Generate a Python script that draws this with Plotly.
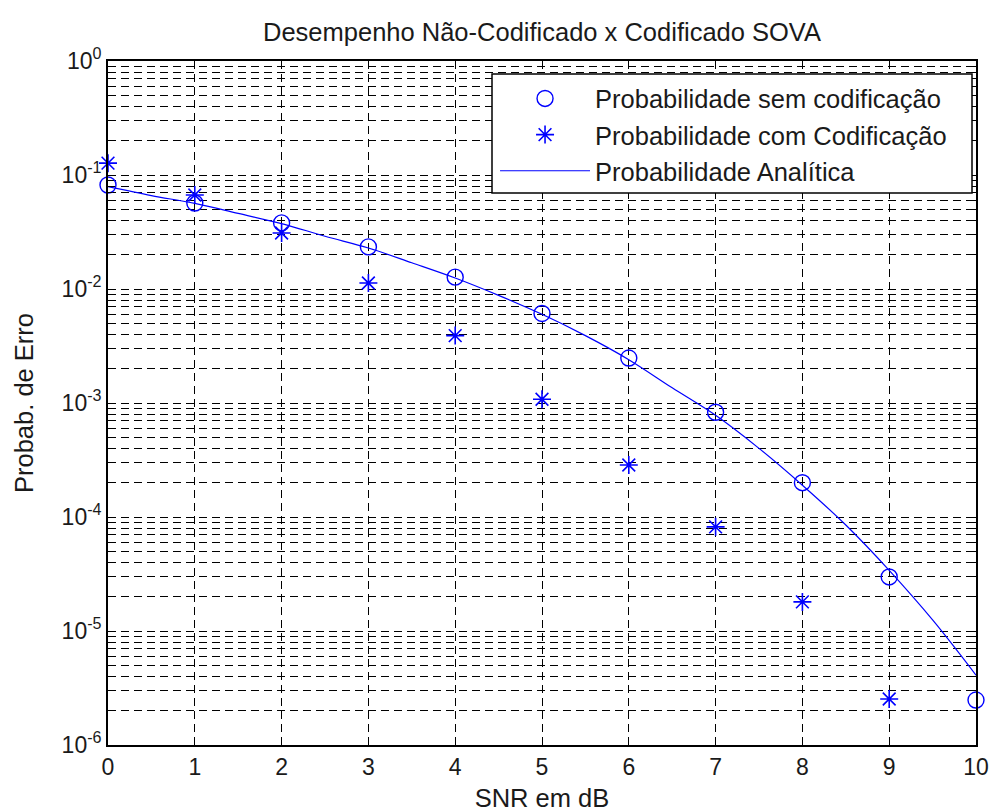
import plotly.graph_objects as go

snr = [0, 1, 2, 3, 4, 5, 6, 7, 8, 9, 10]
p_uncoded = [0.0817, 0.0568, 0.038, 0.0234, 0.0127, 0.0061, 0.00248, 0.00083, 0.0002, 2.98e-5, 2.48e-6]
snr_coded = [0, 1, 2, 3, 4, 5, 6, 7, 8, 9]
p_coded = [0.127, 0.0668, 0.031, 0.0113, 0.0039, 0.00108, 0.000286, 8.2e-5, 1.8e-5, 2.53e-6]
snr_line = [0, 0.5, 1, 1.5, 2, 2.5, 3, 3.5, 4, 4.5, 5, 5.5, 6, 6.5, 7, 7.5, 8, 8.5, 9, 9.5, 10]
p_line = [0.079, 0.066, 0.0563, 0.046, 0.0375, 0.029, 0.0229, 0.017, 0.0125, 0.0088, 0.006,
          0.0039, 0.0024, 0.00136, 0.00078, 0.0004, 0.00019, 8.5e-5, 3.4e-5, 1.25e-5, 4.1e-6]
ytick_vals = [1, 1e-1, 1e-2, 1e-3, 1e-4, 1e-5, 1e-6]
ytick_text = ["10<sup>0</sup>", "10<sup>-1</sup>", "10<sup>-2</sup>", "10<sup>-3</sup>",
              "10<sup>-4</sup>", "10<sup>-5</sup>", "10<sup>-6</sup>"]

FONT = "Liberation Sans, Arial, sans-serif"
BLUE = "#0000FF"
DASH = "8px,5px"

fig = go.Figure()
fig.add_trace(go.Scatter(x=snr, y=p_uncoded, mode="markers", name="Probabilidade sem codificação",
                         marker=dict(symbol="circle-open", size=16, color=BLUE, line=dict(width=1.4)),
                         cliponaxis=False))
fig.add_trace(go.Scatter(x=snr_coded, y=p_coded, mode="markers", name="Probabilidade com Codificação",
                         marker=dict(symbol="asterisk-open", size=15, color=BLUE, line=dict(width=1.6, color=BLUE)),
                         cliponaxis=False))
fig.add_trace(go.Scatter(x=snr_line, y=p_line, mode="lines", name="Probabilidade Analítica",
                         line=dict(color=BLUE, width=1.2, shape="spline")))

# legend box (drawn as a shape so its size matches the reference)
fig.add_shape(type="rect", xref="paper", yref="paper", x0=0.4424, x1=0.9954, y0=0.807, y1=0.981,
              fillcolor="white", line=dict(color="black", width=1.5), layer="above")

fig.update_layout(
    width=991, height=812,
    margin=dict(l=108, r=15, t=61, b=67),
    paper_bgcolor="white", plot_bgcolor="white",
    font=dict(family=FONT, size=25, color="#1a1a1a"),
    title=dict(text="Desempenho Não-Codificado x Codificado SOVA", x=542 / 991, xanchor="center",
               y=1 - 32 / 812, yanchor="middle", font=dict(size=25.5)),
    showlegend=True,
    legend=dict(x=0.4459, y=0.979, xanchor="left", yanchor="top", bgcolor="rgba(0,0,0,0)",
                borderwidth=0, font=dict(size=25.5), tracegroupgap=0, itemwidth=90),
)
fig.update_xaxes(range=[0, 10], dtick=1, tick0=0, showline=True, linecolor="black", linewidth=1.8,
                 mirror="ticks", ticks="inside", ticklen=7, tickcolor="black",
                 showgrid=True, gridcolor="black", griddash=DASH, gridwidth=1, zeroline=False,
                 automargin=False,
                 title=dict(text="SNR em dB", standoff=13, font=dict(size=25.5)), tickfont=dict(size=23))
fig.update_yaxes(type="log", range=[-6, 0], tickvals=ytick_vals, ticktext=ytick_text,
                 showline=True, linecolor="black", linewidth=1.8, mirror="ticks",
                 ticks="inside", ticklen=7, tickcolor="black",
                 showgrid=True, gridcolor="black", griddash=DASH, gridwidth=1, automargin=False,
                 minor=dict(tickvals=[m * 10 ** e for e in range(-6, 0) for m in range(2, 10)],
                            showgrid=True, gridcolor="black", griddash=DASH, gridwidth=1,
                            ticks="inside", ticklen=4, tickcolor="black"),
                 title=dict(text="Probab. de Erro", standoff=21, font=dict(size=25.5)),
                 tickfont=dict(size=23))

fig.write_html("out.html")
